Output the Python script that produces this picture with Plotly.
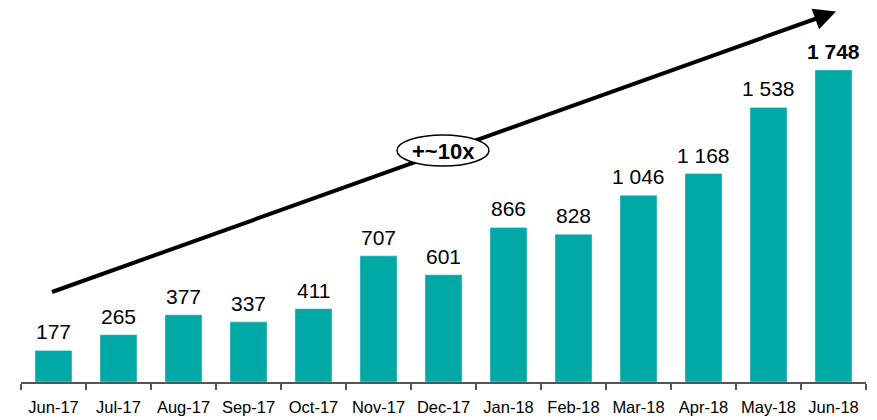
import plotly.graph_objects as go

months = ["Jun-17", "Jul-17", "Aug-17", "Sep-17", "Oct-17", "Nov-17", "Dec-17",
          "Jan-18", "Feb-18", "Mar-18", "Apr-18", "May-18", "Jun-18"]
values = [177, 265, 377, 337, 411, 707, 601, 866, 828, 1046, 1168, 1538, 1748]
growth_label = "+~10x"

# the page body adds an 8px offset; compensate so the picture lines up
OFF = 8
W, H = 877 - OFF, 420 - OFF
L, R, T = 21 - OFF, 11, 0
BASE = 382 - OFF           # pixel row of the x axis in figure coordinates
B = H - BASE
pw, ph = W - L - R, H - T - B

def px(x):
    return (x - OFF - L) / pw

def py(y):
    return (BASE - (y - OFF)) / ph

def fmt(v):
    return f"{v:,}".replace(",", " ")

FONT = "Liberation Sans, Arial"

fig = go.Figure()
fig.add_trace(go.Bar(x=months, y=values, marker_color="#00A8A6", width=0.57,
                     hoverinfo="x+y"))

annotations = []
for i, (m, v) in enumerate(zip(months, values)):
    t = fmt(v)
    if i == len(values) - 1:
        t = f"<b>{t}</b>"
    annotations.append(dict(x=m, y=v, text=t, showarrow=False, yanchor="bottom",
                            yshift=5, font=dict(family=FONT, size=21, color="#000")))

# arrowhead
annotations.append(dict(xref="paper", yref="paper", x=px(836), y=py(11.5),
                        ax=-22, ay=8, showarrow=True, arrowhead=2, arrowsize=1.1,
                        arrowwidth=4, arrowcolor="#000", text=""))
# ellipse label
annotations.append(dict(xref="paper", yref="paper", x=px(443), y=py(151),
                        text=f"<b>{growth_label}</b>", showarrow=False,
                        font=dict(family=FONT, size=22, color="#000")))

shapes = [
    dict(type="line", xref="paper", yref="paper", x0=px(52), y0=py(292),
         x1=px(822), y1=py(16.5), line=dict(color="#000", width=4), layer="above"),
    dict(type="circle", xref="paper", yref="paper", x0=px(397), y0=py(166),
         x1=px(489), y1=py(135), fillcolor="#fff", line=dict(color="#000", width=1.5),
         layer="above"),
]

fig.update_layout(
    width=W, height=H,
    margin=dict(l=L, r=R, t=T, b=B, autoexpand=False),
    plot_bgcolor="#fff", paper_bgcolor="#fff",
    showlegend=False,
    annotations=annotations,
    shapes=shapes,
    font=dict(family=FONT, color="#000"),
)
fig.update_xaxes(showline=True, linecolor="#555", linewidth=1.5, ticks="outside",
                 tickson="boundaries", ticklen=6, tickcolor="#555", tickwidth=1.5,
                 tickfont=dict(size=16.5, color="#000"), ticklabelstandoff=9,
                 tickangle=0,
                 showgrid=False, range=[-0.5, 12.5], automargin=False)
fig.update_yaxes(visible=False, range=[0, ph / 0.1785], showgrid=False)

fig.write_html("out.html")
